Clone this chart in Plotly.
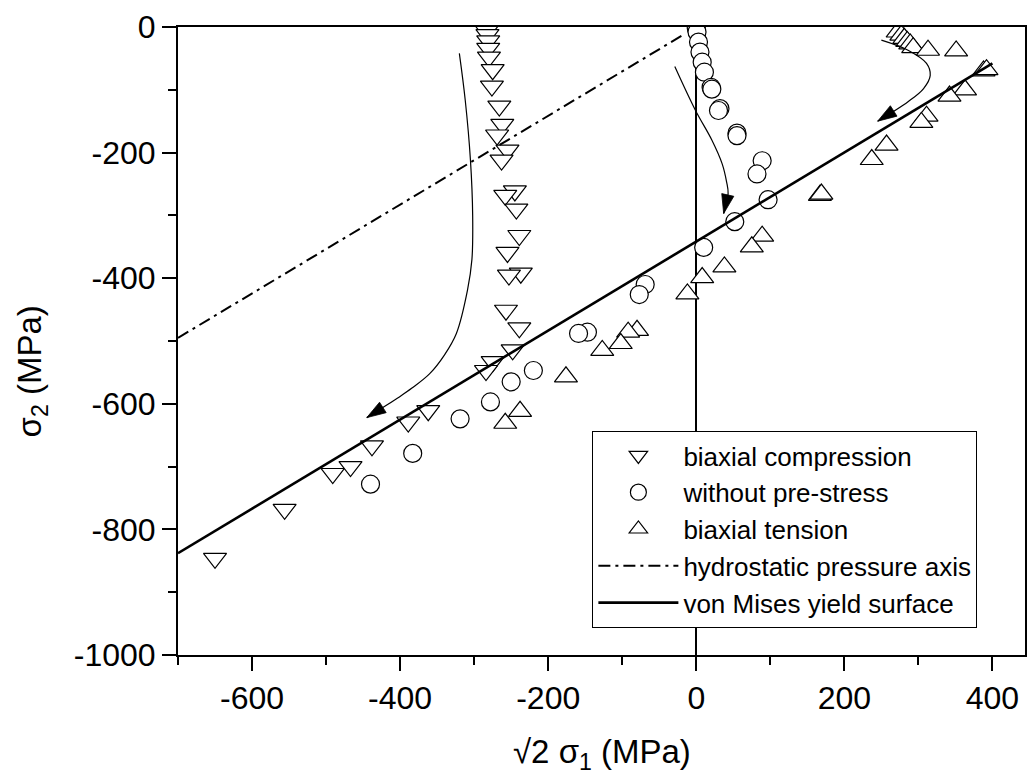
import plotly.graph_objects as go

# ---------------- data ----------------
# biaxial compression (down triangles)
comp_x = [-284, -283, -282, -281, -281, -280, -275, -276, -266, -262, -269, -255, -263,
          -245, -258, -243, -239, -255, -237, -253, -257, -239, -248, -275, -284,
          -362, -389, -438, -467, -491, -556, -650]
comp_y = [-2, -6, -12, -22, -34, -48, -68, -94, -126, -155, -172, -196, -212,
          -261, -268, -290, -332, -359, -392, -395, -451, -479, -514, -533, -547,
          -611, -629, -667, -700, -711, -768, -846]

# without pre-stress (circles)
free_x = [0, 1, 3, 5, 8, 11, 20, 21, 32, 30, 55, 55, 89, 82, 97, 52, 10,
          -69, -77, -147, -159, -220, -250, -278, -319, -383, -440]
free_y = [-2, -8, -24, -40, -56, -72, -96, -99, -130, -133, -169, -173, -213, -234, -275, -310, -351,
          -410, -426, -486, -488, -547, -565, -597, -624, -679, -728]

# biaxial tension (up triangles)
tens_x = [272, 277, 281, 285, 289, 293, 313, 351, 388, 392, 363, 342, 311, 304,
          257, 237, 167, 169, 89, 75, 38, 8, -12, -80, -92, -102, -127, -176, -238, -258]
tens_y = [-8, -13, -18, -23, -27, -33, -37, -38, -70, -68, -100, -110, -142, -152,
          -188, -211, -268, -266, -333, -350, -382, -399, -425, -483, -486, -504, -515, -557, -612, -631]

# hydrostatic pressure axis and von Mises yield surface
hydro_x = [-700, -15]
hydro_y = [-495, -10.6]
mises_x = [-700, 400]
mises_y = [-838, -58]

# loading-path arrows
path1_x = [-320, -312, -305, -302, -303, -309, -324, -340, -360, -384, -401, -425, -445]
path1_y = [-42, -117, -212, -300, -370, -419, -488, -522, -552, -575, -589, -607, -622]
path2_x = [-29, -1, 21, 35, 41, 43, 37]
path2_y = [-63, -133, -180, -218, -247, -265, -297]
path3_x = [250, 286, 311, 316, 307, 286, 245]
path3_y = [-21, -37, -58, -77, -98, -119, -150]

x_ticks = [-600, -400, -200, 0, 200, 400]
y_ticks = [0, -200, -400, -600, -800, -1000]

FONT = "Arial, Liberation Sans, sans-serif"

fig = go.Figure()

mk_line = dict(color="black", width=1.2)
fig.add_trace(go.Scatter(x=comp_x, y=comp_y, mode="markers", name="biaxial compression",
                         marker=dict(symbol="triangle-down", size=20, color="white", line=mk_line)))
fig.add_trace(go.Scatter(x=free_x, y=free_y, mode="markers", name="without pre-stress",
                         marker=dict(symbol="circle", size=18, color="white", line=mk_line)))
fig.add_trace(go.Scatter(x=tens_x, y=tens_y, mode="markers", name="biaxial tension",
                         marker=dict(symbol="triangle-up", size=20, color="white", line=mk_line)))
fig.add_trace(go.Scatter(x=hydro_x, y=hydro_y, mode="lines", name="hydrostatic pressure axis",
                         line=dict(color="black", width=2, dash="12px,5px,3px,5px")))
fig.add_trace(go.Scatter(x=mises_x, y=mises_y, mode="lines", name="von Mises yield surface",
                         line=dict(color="black", width=2.6)))

for px, py in [(path1_x, path1_y), (path2_x, path2_y), (path3_x, path3_y)]:
    sizes = [0] * (len(px) - 1) + [20]
    fig.add_trace(go.Scatter(x=px, y=py, mode="lines+markers", showlegend=False, hoverinfo="skip",
                             line=dict(color="black", width=1.2, shape="spline"),
                             marker=dict(symbol="arrow", angleref="previous", size=sizes,
                                         color="black", opacity=1,
                                         line=dict(width=0.8, color="black"))))

axis_common = dict(showline=True, linecolor="black", linewidth=2, mirror=True,
                   ticks="outside", ticklen=14, tickwidth=2, tickcolor="black",
                   showgrid=False, tickfont=dict(family=FONT, size=32, color="black"))

fig.update_xaxes(range=[-700, 444], tickvals=x_ticks, ticktext=[str(v) for v in x_ticks],
                 zeroline=True, zerolinecolor="black", zerolinewidth=2,
                 minor=dict(dtick=100, tick0=0, ticks="outside", ticklen=8, tickwidth=2,
                            tickcolor="black", showgrid=False),
                 **axis_common)
fig.update_yaxes(range=[-1000, 0], tickvals=y_ticks, ticktext=[str(v) for v in y_ticks],
                 zeroline=False,
                 minor=dict(dtick=100, tick0=0, ticks="outside", ticklen=8, tickwidth=2,
                            tickcolor="black", showgrid=False),
                 **axis_common)

fig.add_annotation(x=0.5, y=-0.157, xref="paper", yref="paper", showarrow=False,
                   text="\u221a2 \u03c3<sub>1</sub> (MPa)", xanchor="center", yanchor="middle",
                   font=dict(family=FONT, size=33, color="black"))
fig.add_annotation(x=-0.172, y=0.452, xref="paper", yref="paper", showarrow=False,
                   text="\u03c3<sub>2</sub> (MPa)", textangle=-90, xanchor="center", yanchor="middle",
                   font=dict(family=FONT, size=33, color="black"))

fig.update_layout(
    width=1031, height=781,
    margin=dict(l=178, r=4, t=27, b=126),
    paper_bgcolor="white", plot_bgcolor="white",
    font=dict(family=FONT, color="black"),
    legend=dict(x=0.489, y=0.357, xanchor="left", yanchor="top",
                bgcolor="white", bordercolor="black", borderwidth=1.2,
                font=dict(family=FONT, size=26, color="black"),
                itemwidth=80, tracegroupgap=0),
    showlegend=True,
)

fig.write_html("out.html")
